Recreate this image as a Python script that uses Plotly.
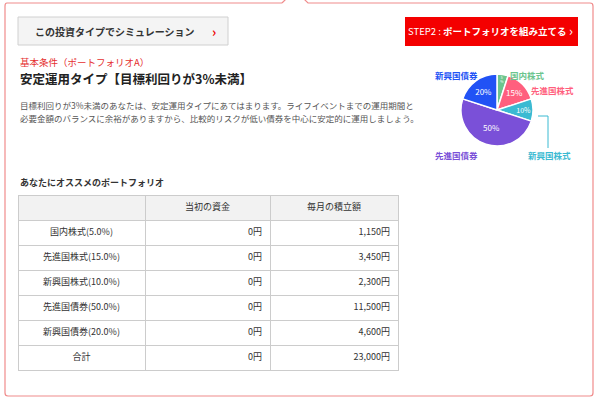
import plotly.graph_objects as go

labels = ["国内株式", "先進国株式", "新興国株式", "先進国債券", "新興国債券"]
shares = [5, 15, 10, 50, 20]
colors = ["#6cc58e", "#ff5f7e", "#3bbad2", "#7a50d8", "#2152f5"]
initial = ["0円", "0円", "0円", "0円", "0円", "0円"]
monthly = ["1,150円", "3,450円", "2,300円", "11,500円", "4,600円", "23,000円"]
row_names = ["国内株式(5.0%)", "先進国株式(15.0%)", "新興国株式(10.0%)", "先進国債券(50.0%)", "新興国債券(20.0%)", "合計"]
headers = ["", "当初の資金", "毎月の積立額"]

W, H = 600, 402
F = "Noto Sans CJK JP"
fig = go.Figure()

fig.add_trace(go.Pie(labels=labels, values=shares, sort=False, direction="clockwise", rotation=0,
                     marker=dict(colors=colors, line=dict(color="white", width=1.5)),
                     texttemplate=["%{value}<br>%", "%{value}%", "%{value}%", "%{value}%", "%{value}%"],
                     textposition="inside", insidetextorientation="horizontal",
                     textfont=dict(color="white", size=8, family=F), showlegend=False, hoverinfo="skip",
                     domain=dict(x=[461/W, 533/W], y=[1-146/H, 1-74/H])))

fig.add_trace(go.Table(columnwidth=[127, 125, 128],
    header=dict(values=headers, fill_color="#f2f2f2", line_color="#cccccc", height=25,
                align="center", font=dict(size=9, color="#333", family=F)),
    cells=dict(values=[row_names, initial, monthly], fill_color="white", line_color="#cccccc", height=25,
               align=["center", "right", "right"], font=dict(size=9, color="#333", family=F)),
    domain=dict(x=[18/W, 398/W], y=[1-371/H, 1-195/H])))

shapes = [
    dict(type="path", path="M 282 3 L 7 3 Q 5 3 5 6 L 5 393 Q 5 396 8 396 L 590 396 Q 593 396 593 393 L 593 6 Q 593 3 590 3 L 308 3 L 300 -5",
         line=dict(color="#f08c8c", width=1.2)),
    dict(type="path", path="M 282 3 L 290 -5", line=dict(color="#f08c8c", width=1.2)),
    dict(type="rect", x0=18, x1=228, y0=17, y1=45, fillcolor="#f4f4f4", line=dict(color="#d0d0d0", width=1)),
    dict(type="rect", x0=405, x1=578, y0=17, y1=46, fillcolor="#f40000", line=dict(width=0)),
    dict(type="path", path="M 538 116 L 548 116 L 548 148", line=dict(color="#3bbad2", width=1)),
]
ann = [
    dict(x=115, y=31, text="<b>この投資タイプでシミュレーション</b>", font=dict(size=10, color="#333")),
    dict(x=214, y=31, text="<b>›</b>", font=dict(size=13, color="#e00")),
    dict(x=487, y=31, text="STEP2 : <b>ポートフォリオを組み立てる</b>", font=dict(size=9.5, color="white")),
    dict(x=571, y=30, text="›", font=dict(size=13, color="white")),
    dict(x=18, y=62, text="基本条件（ポートフォリオA）", xanchor="left", font=dict(size=9.5, color="#e53030")),
    dict(x=18, y=78, text="<b>安定運用タイプ【目標利回りが3%未満】</b>", xanchor="left", font=dict(size=12.5, color="#222")),
    dict(x=18, y=105, text="目標利回りが3%未満のあなたは、安定運用タイプにあてはまります。ライフイベントまでの運用期間と", xanchor="left", font=dict(size=8.5, color="#555")),
    dict(x=18, y=118, text="必要金額のバランスに余裕がありますから、比較的リスクが低い債券を中心に安定的に運用しましょう。", xanchor="left", font=dict(size=8.5, color="#555")),
    dict(x=18, y=182, text="<b>あなたにオススメのポートフォリオ</b>", xanchor="left", font=dict(size=9, color="#333")),
    dict(x=456, y=75, text="<b>新興国債券</b>", font=dict(size=8.5, color="#2152f5")),
    dict(x=527, y=75, text="<b>国内株式</b>", font=dict(size=8.5, color="#6cc58e")),
    dict(x=552, y=90, text="<b>先進国株式</b>", font=dict(size=8.5, color="#ff5f7e")),
    dict(x=456, y=155, text="<b>先進国債券</b>", font=dict(size=8.5, color="#7a50d8")),
    dict(x=549, y=155, text="<b>新興国株式</b>", font=dict(size=8.5, color="#3bbad2")),
]
for a in ann:
    a.update(xref="x", yref="y", showarrow=False)
    a["font"]["family"] = F

fig.update_layout(width=W, height=H, margin=dict(l=0, r=0, t=0, b=0), paper_bgcolor="white", plot_bgcolor="white",
                  xaxis=dict(range=[0, W], visible=False, fixedrange=True),
                  yaxis=dict(range=[H, 0], visible=False, fixedrange=True),
                  shapes=shapes, annotations=ann)
fig.write_html("out.html", config={"displayModeBar": False},
               post_script="document.body.style.margin='0';document.body.style.overflow='hidden';")
